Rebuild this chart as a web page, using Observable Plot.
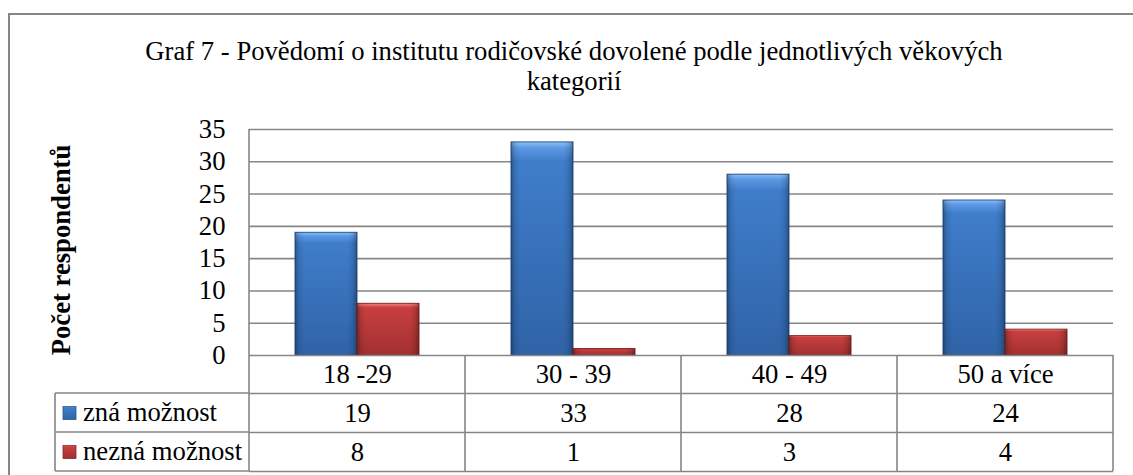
<!DOCTYPE html>
<html>
<head>
<meta charset="utf-8">
<script src="https://cdn.jsdelivr.net/npm/d3@7"></script>
<script src="https://cdn.jsdelivr.net/npm/@observablehq/plot@0.6"></script>
<style>
  html, body { margin: 0; padding: 0; background: #fff; }
  #chart svg { display: block; }
  #chart svg text { font-family: "Liberation Serif", "Times New Roman", serif; }
</style>
</head>
<body>
<div id="chart"></div>
<script>
// ---- data ----
const categories = ["18 -29", "30 - 39", "40 - 49", "50 a více"];
const seriesNames = ["zná možnost", "nezná možnost"];
const znaValues = [19, 33, 28, 24];
const neznaValues = [8, 1, 3, 4];
const yTicks = [0, 5, 10, 15, 20, 25, 30, 35];
const titleLines = ["Graf 7 - Povědomí o institutu rodičovské dovolené podle jednotlivých věkových", "kategorií"];
const yLabel = "Počet respondentů";

const seriesValues = [znaValues, neznaValues];
const data = categories.flatMap((c, i) =>
  seriesNames.map((s, j) => ({category: c, series: s, value: seriesValues[j][i]}))
);

// ---- style ----
const W = 1133, H = 475;
const mL = 249, mR = 20, mT = 129, mB = 120;
const FONT = "Liberation Serif, Times New Roman, serif";
const FS = 26.67;
const lineColor = "#868686";
const rowH = [38, 39, 39];
const strokes = ["#2a5590", "#8e2727"];

const rowOffsets = [rowH[0] / 2, rowH[0] + rowH[1] / 2, rowH[0] + rowH[1] + rowH[2] / 2];

const chart = Plot.plot({
  width: W, height: H,
  marginLeft: mL, marginRight: mR, marginTop: mT, marginBottom: mB,
  style: {fontFamily: FONT, fontSize: FS + "px", color: "#000", background: "transparent", overflow: "visible"},
  fx: {domain: categories, padding: 0, axis: null},
  x: {domain: seriesNames, paddingInner: 0, paddingOuter: 0.728, axis: null},
  y: {domain: [0, 35], ticks: yTicks, tickSize: 0, tickPadding: 24, label: null, tickFormat: d => String(d)},
  marks: [
    Plot.ruleY(yTicks.filter(v => v > 0), {stroke: lineColor, strokeWidth: 1.6}),
    ...seriesNames.map((s, j) =>
      Plot.barY(data.filter(d => d.series === s), {
        fx: "category", x: "series", y: "value",
        fill: `url(#grad${j})`, stroke: strokes[j], strokeWidth: 1
      })
    ),
    Plot.barY(data, {fx: "category", x: "series", y: "value", fill: "url(#shade)"}),
    Plot.ruleY([0], {stroke: lineColor, strokeWidth: 1.6}),
    Plot.text(categories, {fx: d => d, text: d => d, frameAnchor: "bottom", dy: rowOffsets[0], lineAnchor: "middle"}),
    ...seriesNames.map((s, j) =>
      Plot.text(data.filter(d => d.series === s), {fx: "category", text: d => String(d.value), frameAnchor: "bottom", dy: rowOffsets[j + 1], lineAnchor: "middle"})
    ),
    ...[rowH[0], rowH[0] + rowH[1], rowH[0] + rowH[1] + rowH[2]].map(off =>
      Plot.ruleY([0], {stroke: lineColor, strokeWidth: 1.6, dy: off})
    )
  ]
});
document.getElementById("chart").appendChild(chart);

// ---- decorations ----
const svg = d3.select(chart);
const defs = svg.insert("defs", ":first-child");
const grads = [
  [["0%", "#8cc0f7"], ["3%", "#5b98e3"], ["9%", "#3f7dca"], ["100%", "#2f63a7"]],
  [["0%", "#f59a9a"], ["3%", "#e36464"], ["9%", "#c83f3f"], ["100%", "#a23030"]]
];
grads.forEach((stops, j) => {
  const g = defs.append("linearGradient").attr("id", "grad" + j).attr("x1", 0).attr("y1", 0).attr("x2", 0).attr("y2", 1);
  stops.forEach(([o, c]) => g.append("stop").attr("offset", o).attr("stop-color", c));
});
const sh = defs.append("linearGradient").attr("id", "shade").attr("x1", 0).attr("y1", 0).attr("x2", 1).attr("y2", 0);
[["0%", 0.3], ["7%", 0.08], ["15%", 0], ["85%", 0], ["93%", 0.1], ["100%", 0.32]].forEach(([o, a]) =>
  sh.append("stop").attr("offset", o).attr("stop-color", "#000").attr("stop-opacity", a));

const yScale = chart.scale("y");
const y0 = yScale.apply(0);
const plotTop = yScale.apply(35);
const tableBottom = y0 + rowH[0] + rowH[1] + rowH[2];
const legendLeft = 55;
const colW = (W - mL - mR) / categories.length;

const deco = svg.append("g").attr("stroke", lineColor).attr("stroke-width", 1.6).attr("fill", "none");
// outer border
deco.append("rect").attr("x", 9).attr("y", 14).attr("width", W + 20).attr("height", H + 20).attr("stroke-width", 2);
// left axis line continuing into table
deco.append("line").attr("x1", mL).attr("x2", mL).attr("y1", plotTop).attr("y2", tableBottom);
// column separators in table
for (let i = 1; i <= categories.length; i++) {
  const x = mL + i * colW;
  deco.append("line").attr("x1", x).attr("x2", x).attr("y1", y0).attr("y2", tableBottom);
}
// legend column lines
deco.append("line").attr("x1", legendLeft).attr("x2", legendLeft).attr("y1", y0 + rowH[0]).attr("y2", tableBottom);
[y0 + rowH[0], y0 + rowH[0] + rowH[1], tableBottom].forEach(yy =>
  deco.append("line").attr("x1", legendLeft).attr("x2", mL).attr("y1", yy).attr("y2", yy));

// legend entries
const leg = svg.append("g").attr("font-size", FS).attr("text-anchor", "start");
seriesNames.forEach((s, j) => {
  const cy = y0 + rowOffsets[j + 1];
  leg.append("rect").attr("x", 63).attr("y", cy - 6).attr("width", 13).attr("height", 13)
    .attr("fill", `url(#grad${j})`).attr("stroke", strokes[j]).attr("stroke-width", 0.8);
  leg.append("text").attr("x", 83).attr("y", cy).attr("dy", "0.32em").text(s);
});

// title
const t = svg.append("text").attr("font-size", FS).attr("text-anchor", "middle");
titleLines.forEach((line, i) => t.append("tspan").attr("x", 574).attr("y", 60 + i * 30).text(line));

// y label
svg.append("text").attr("font-size", FS).attr("font-weight", "bold")
  .attr("text-anchor", "middle").attr("transform", `translate(70,250) rotate(-90)`).text(yLabel);
</script>
</body>
</html>
